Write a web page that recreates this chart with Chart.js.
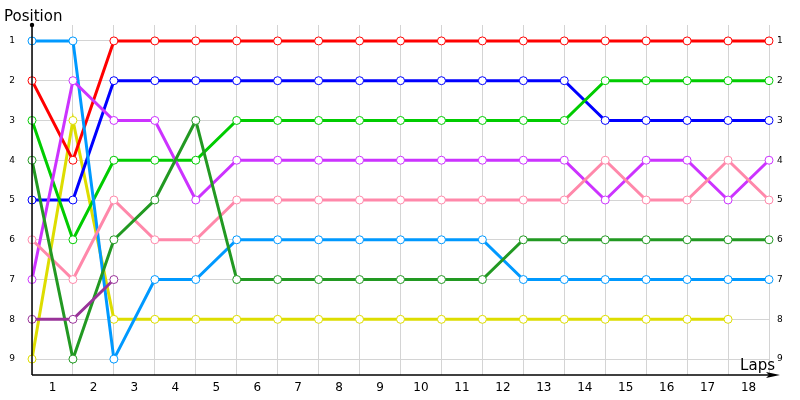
<!DOCTYPE html>
<html>
<head>
<meta charset="utf-8">
<script src="https://cdn.jsdelivr.net/npm/chart.js@4"></script>
<style>
  html, body { margin: 0; padding: 0; background: #fff; }
  #wrap { width: 800px; height: 400px; position: relative; }
</style>
</head>
<body>
<div id="wrap"><canvas id="chart"></canvas></div>
<script>
// Lap labels (shown between the lap gridlines)
const lapLabels = ['1','2','3','4','5','6','7','8','9','10','11','12','13','14','15','16','17','18',''];
const positionTicks = [1, 2, 3, 4, 5, 6, 7, 8, 9];

// Position of each car, per lap (index 0 = start)
const redCar    = [2,4,1,1,1,1,1,1,1,1,1,1,1,1,1,1,1,1,1];
const blueCar   = [5,5,2,2,2,2,2,2,2,2,2,2,2,2,3,3,3,3,3];
const skyCar    = [1,1,9,7,7,6,6,6,6,6,6,6,7,7,7,7,7,7,7];
const greenCar  = [3,6,4,4,4,3,3,3,3,3,3,3,3,3,2,2,2,2,2];
const forestCar = [4,9,6,5,3,7,7,7,7,7,7,7,6,6,6,6,6,6,6];
const violetCar = [7,2,3,3,5,4,4,4,4,4,4,4,4,4,5,4,4,5,4];
const pinkCar   = [6,7,5,6,6,5,5,5,5,5,5,5,5,5,4,5,5,4,5];
const yellowCar = [9,3,8,8,8,8,8,8,8,8,8,8,8,8,8,8,8,8,null];
const plumCar   = [8,8,7,null,null,null,null,null,null,null,null,null,null,null,null,null,null,null,null];

function makeSeries(data, color) {
    return {
        data: data,
        borderColor: color,
        backgroundColor: '#ffffff',
        borderWidth: 3,
        pointRadius: 4,
        pointBorderWidth: 1,
        pointBackgroundColor: '#ffffff',
        pointBorderColor: color,
        tension: 0,
        spanGaps: false,
        fill: false
    };
}

// Axis arrows and titles
const axisDecor = {
    id: 'axisDecor',
    afterDraw(chart) {
        const { ctx, chartArea } = chart;
        ctx.save();
        ctx.strokeStyle = '#000';
        ctx.fillStyle = '#000';
        ctx.lineWidth = 1.5;
        // y axis
        ctx.beginPath();
        ctx.moveTo(chartArea.left, chartArea.top);
        ctx.lineTo(chartArea.left, chartArea.bottom);
        ctx.stroke();
        ctx.beginPath();
        ctx.arc(chartArea.left, chartArea.top, 2.2, 0, Math.PI * 2);
        ctx.fill();
        // x axis with arrow
        ctx.beginPath();
        ctx.moveTo(chartArea.left, chartArea.bottom);
        ctx.lineTo(chartArea.right + 6, chartArea.bottom);
        ctx.stroke();
        ctx.beginPath();
        ctx.moveTo(chartArea.right + 11, chartArea.bottom);
        ctx.lineTo(chartArea.right - 3, chartArea.bottom - 3);
        ctx.lineTo(chartArea.right, chartArea.bottom);
        ctx.lineTo(chartArea.right - 3, chartArea.bottom + 3);
        ctx.closePath();
        ctx.fill();
        // titles
        ctx.font = '15px "DejaVu Sans"';
        ctx.textBaseline = 'alphabetic';
        ctx.textAlign = 'left';
        ctx.fillText('Position', 4, 21);
        ctx.textAlign = 'right';
        ctx.fillText('Laps', chartArea.right + 6, chartArea.bottom - 5);
        ctx.restore();
    }
};

function setPositionTicks(scale) {
    scale.ticks = positionTicks.map(v => ({ value: v }));
}

const ctx = document.getElementById('chart').getContext('2d');
new Chart(ctx, {
    type: 'line',
    data: {
        labels: lapLabels,
        // first dataset is drawn on top
        datasets: [
            makeSeries(plumCar, '#993399'),
            makeSeries(forestCar, '#229922'),
            makeSeries(pinkCar, '#ff88aa'),
            makeSeries(violetCar, '#cc33ff'),
            makeSeries(skyCar, '#0099ff'),
            makeSeries(greenCar, '#00cc00'),
            makeSeries(blueCar, '#0000ff'),
            makeSeries(redCar, '#ff0000'),
            makeSeries(yellowCar, '#dddd00')
        ]
    },
    options: {
        responsive: true,
        maintainAspectRatio: false,
        animation: false,
        layout: { padding: { top: 25, left: 0, right: 0, bottom: 0 } },
        plugins: {
            legend: { display: false },
            tooltip: { enabled: false }
        },
        scales: {
            x: {
                type: 'category',
                offset: false,
                grid: { color: '#d4d4d4', lineWidth: 1, drawTicks: false },
                border: { display: false },
                ticks: {
                    autoSkip: false,
                    maxRotation: 0,
                    labelOffset: 20.5,
                    padding: 6,
                    color: '#000',
                    font: { family: 'DejaVu Sans', size: 12 }
                },
                afterFit: s => { s.height = 25; }
            },
            y: {
                min: 0.6,
                max: 9.4,
                reverse: true,
                afterBuildTicks: setPositionTicks,
                grid: { color: '#d4d4d4', lineWidth: 1, drawTicks: false },
                border: { display: false },
                ticks: {
                    padding: 17,
                    color: '#000',
                    font: { family: 'DejaVu Sans', size: 9 }
                },
                afterFit: s => { s.width = 32; }
            },
            y2: {
                position: 'right',
                min: 0.6,
                max: 9.4,
                reverse: true,
                afterBuildTicks: setPositionTicks,
                grid: { display: false, drawTicks: false },
                border: { display: false },
                ticks: {
                    padding: 8,
                    color: '#000',
                    font: { family: 'DejaVu Sans', size: 9 }
                },
                afterFit: s => { s.width = 31; }
            }
        }
    },
    plugins: [axisDecor]
});
</script>
</body>
</html>
